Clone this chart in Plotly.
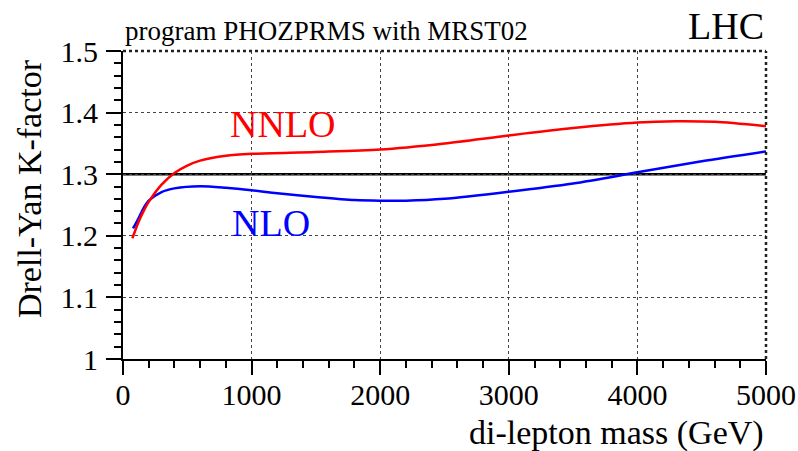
import plotly.graph_objects as go

# --- data ---
mass_nlo = [78, 120, 160, 200, 300, 400, 600, 800, 1000, 1200, 1500, 1800, 2000, 2200, 2500, 3000, 3500, 4000, 4500, 5000]
k_nlo = [1.212, 1.228, 1.245, 1.257, 1.271, 1.277, 1.2805, 1.278, 1.274, 1.269, 1.263, 1.258, 1.257, 1.257, 1.260, 1.2715, 1.285, 1.303, 1.321, 1.337]

mass_nnlo = [73, 120, 160, 200, 300, 400, 500, 600, 800, 1000, 1500, 2000, 2500, 3000, 3500, 4000, 4300, 4600, 5000]
k_nnlo = [1.196, 1.222, 1.240, 1.255, 1.283, 1.302, 1.314, 1.322, 1.330, 1.333, 1.336, 1.340, 1.350, 1.363, 1.375, 1.384, 1.386, 1.385, 1.378]

ref_k = 1.3
x_ticks = [0, 1000, 2000, 3000, 4000, 5000]
y_ticks = [1.0, 1.1, 1.2, 1.3, 1.4, 1.5]
y_tick_labels = ["1", "1.1", "1.2", "1.3", "1.4", "1.5"]

FONT = "Liberation Serif"

fig = go.Figure()
fig.add_trace(go.Scatter(x=mass_nlo, y=k_nlo, mode="lines", name="NLO",
                         line=dict(color="#0000ff", width=2.5, shape="spline", smoothing=0.8)))
fig.add_trace(go.Scatter(x=mass_nnlo, y=k_nnlo, mode="lines", name="NNLO",
                         line=dict(color="#ff0000", width=2.5, shape="spline", smoothing=0.8)))

# reference line at K = 1.3
fig.add_shape(type="line", xref="x", yref="y", x0=0, x1=5000, y0=ref_k, y1=ref_k,
              line=dict(color="black", width=2.5), layer="below")
# top and right frame (dotted look)
fig.add_shape(type="line", xref="paper", yref="paper", x0=0, x1=1, y0=1, y1=1,
              line=dict(color="#222", width=2.5, dash="dot"))
fig.add_shape(type="line", xref="paper", yref="paper", x0=1, x1=1, y0=0, y1=1,
              line=dict(color="#222", width=2.5, dash="dot"))

fig.add_annotation(x=817, y=1.382, xref="x", yref="y", text="NNLO", showarrow=False,
                   xanchor="left", yanchor="middle", font=dict(family=FONT, size=38, color="#ff0000"))
fig.add_annotation(x=830, y=1.2214, xref="x", yref="y", text="NLO", showarrow=False,
                   xanchor="left", yanchor="middle", font=dict(family=FONT, size=38, color="#0000ff"))
fig.add_annotation(x=0, y=1, xref="paper", yref="paper", text="program PHOZPRMS with MRST02",
                   showarrow=False, xanchor="left", yanchor="bottom", yshift=3,
                   font=dict(family=FONT, size=27, color="black"))
fig.add_annotation(x=1, y=1, xref="paper", yref="paper", text="LHC",
                   showarrow=False, xanchor="right", yanchor="bottom", yshift=2,
                   font=dict(family=FONT, size=38, color="black"))
# axis titles
fig.add_annotation(x=1, y=-0.24, xref="paper", yref="paper", text="di-lepton mass (GeV)",
                   showarrow=False, xanchor="right", yanchor="middle",
                   font=dict(family=FONT, size=34, color="black"))
fig.add_annotation(x=-0.1446, y=0.552, xref="paper", yref="paper", text="Drell-Yan K-factor",
                   showarrow=False, xanchor="center", yanchor="middle", textangle=-90,
                   font=dict(family=FONT, size=34, color="black"))

fig.update_xaxes(range=[0, 5000], tickvals=x_ticks, ticktext=[str(v) for v in x_ticks],
                 ticks="outside", ticklen=14, tickwidth=1.5, tickcolor="black",
                 showline=True, linecolor="black", linewidth=2, mirror=False,
                 showgrid=True, gridcolor="#444", griddash="dot", gridwidth=1,
                 zeroline=False, automargin=False, ticklabelstandoff=-6,
                 minor=dict(dtick=200, tick0=0, ticks="outside", ticklen=7, tickwidth=1.5,
                            tickcolor="black", showgrid=False),
                 tickfont=dict(family=FONT, size=30, color="black"))
fig.update_yaxes(range=[1.0, 1.5], tickvals=y_ticks, ticktext=y_tick_labels,
                 ticks="outside", ticklen=15, tickwidth=1.5, tickcolor="black",
                 showline=True, linecolor="black", linewidth=2, mirror=False,
                 showgrid=True, gridcolor="#444", griddash="dot", gridwidth=1,
                 zeroline=False, automargin=False, ticklabelstandoff=2,
                 minor=dict(dtick=0.02, tick0=1.0, ticks="outside", ticklen=7, tickwidth=1.5,
                            tickcolor="black", showgrid=False),
                 tickfont=dict(family=FONT, size=30, color="black"))

fig.update_layout(width=798, height=451, margin=dict(l=123, r=32, t=51, b=92),
                  paper_bgcolor="white", plot_bgcolor="white", showlegend=False,
                  font=dict(family=FONT))

# remove the page's default body margin so the 798x451 figure fills the window exactly
fig.write_html("out.html", config={"displayModeBar": False},
               post_script="document.body.style.margin='0';document.body.style.overflow='hidden';")
